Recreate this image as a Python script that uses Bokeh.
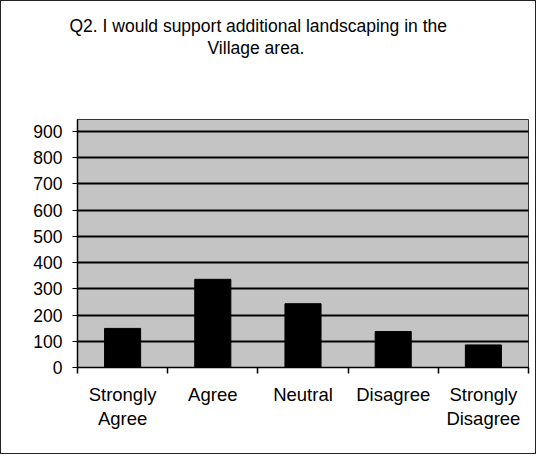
from bokeh.plotting import figure
from bokeh.models import ColumnDataSource, FixedTicker, Range1d, Title
from bokeh.embed import file_html
from bokeh.resources import INLINE

# ---- data ----
categories = ["Strongly\nAgree", "Agree", "Neutral", "Disagree", "Strongly\nDisagree"]
counts = [149, 336, 243, 137, 86]
y_ticks = [0, 100, 200, 300, 400, 500, 600, 700, 800, 900]
title_lines = ["Q2. I would support additional landscaping in the", "Village area."]

FONT = "Liberation Sans"

xpos = [i + 0.5 for i in range(len(categories))]
src = ColumnDataSource(dict(x=xpos, top=counts))

p = figure(width=536, height=454, output_backend="svg", toolbar_location=None,
           x_range=Range1d(0, len(categories)), y_range=Range1d(0, 945),
           min_border_left=76, min_border_right=9, min_border_top=118, min_border_bottom=88)
p.styles = {"border": "1px solid #222"}

p.background_fill_color = "#c4c4c4"
p.border_fill_color = "white"
p.outline_line_color = "#333333"
p.outline_line_width = 1

p.vbar(x="x", top="top", width=0.4, source=src, fill_color="black", line_color="black")

# grid
p.xgrid.visible = False
p.ygrid.ticker = FixedTicker(ticks=y_ticks)
p.ygrid.grid_line_color = "black"
p.ygrid.grid_line_width = 2

# y axis
p.yaxis.ticker = FixedTicker(ticks=y_ticks)
p.yaxis.major_tick_out = 5
p.yaxis.major_tick_in = 0
p.yaxis.minor_tick_line_color = None
p.yaxis.major_label_standoff = 10
p.yaxis.major_label_text_font = FONT
p.yaxis.major_label_text_font_size = "17.5px"
p.yaxis.major_label_text_color = "black"
p.yaxis.axis_line_color = "black"
p.yaxis.axis_line_width = 1.5

# x axis: labels at centers, ticks at boundaries (minor)
p.xaxis.ticker = FixedTicker(ticks=xpos, minor_ticks=list(range(len(categories) + 1)))
p.xaxis.major_label_overrides = {x: c for x, c in zip(xpos, categories)}
p.xaxis.major_tick_line_color = None
p.xaxis.minor_tick_out = 6
p.xaxis.minor_tick_in = 0
p.xaxis.minor_tick_line_color = "black"
p.xaxis.minor_tick_line_width = 1.5
p.xaxis.major_label_standoff = 10
p.xaxis.major_label_text_font = FONT
p.xaxis.major_label_text_font_size = "18.5px"
p.xaxis.major_label_text_color = "black"
p.xaxis.major_label_text_line_height = 1.18
p.xaxis.axis_line_color = "black"
p.xaxis.axis_line_width = 1.5

# title: spacer nearest the frame, then line 2, then line 1
p.add_layout(Title(text=" ", standoff=40, text_font=FONT, text_font_size="17.5px"), "above")
p.add_layout(Title(text=title_lines[1], align="left", offset=130, standoff=0,
                   text_font=FONT, text_font_size="17.5px", text_font_style="normal",
                   text_color="black"), "above")
p.add_layout(Title(text=title_lines[0], align="left", offset=-8, standoff=0,
                   text_font=FONT, text_font_size="17.5px", text_font_style="normal",
                   text_color="black"), "above")

open("out.html", "w").write(file_html(p, INLINE))
